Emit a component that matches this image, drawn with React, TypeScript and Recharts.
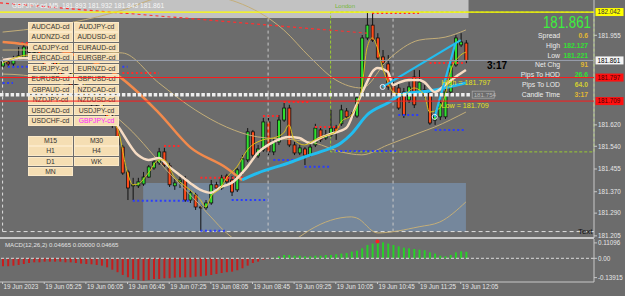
import React from 'react';
import {
  ComposedChart, Bar, Line, XAxis, YAxis, ReferenceLine, ReferenceArea, ReferenceDot, Cell,
} from 'recharts';

const FONT = '"Liberation Sans", Arial, sans-serif';

// 5 minute bars, 19 Jun 2023
const times = [
  '04:45', '04:50', '04:55',
  '05:00', '05:05', '05:10', '05:15', '05:20', '05:25', '05:30', '05:35', '05:40', '05:45', '05:50', '05:55',
  '06:00', '06:05', '06:10', '06:15', '06:20', '06:25', '06:30', '06:35', '06:40', '06:45', '06:50', '06:55',
  '07:00', '07:05', '07:10', '07:15', '07:20', '07:25', '07:30', '07:35', '07:40', '07:45', '07:50', '07:55',
  '08:00', '08:05', '08:10', '08:15', '08:20', '08:25', '08:30', '08:35', '08:40', '08:45', '08:50', '08:55',
  '09:00', '09:05', '09:10', '09:15', '09:20', '09:25', '09:30', '09:35', '09:40', '09:45', '09:50', '09:55',
  '10:00', '10:05', '10:10', '10:15', '10:20', '10:25', '10:30', '10:35', '10:40', '10:45', '10:50', '10:55',
  '11:00', '11:05', '11:10', '11:15', '11:20', '11:25', '11:30', '11:35', '11:40', '11:45', '11:50', '11:55',
  '12:00', '12:05', '12:10',
];

const opens = [
  181.840, 181.855, 181.848, 181.870, 181.874, 181.911, 181.892, 181.900, 181.863, 181.840,
  181.855, 181.818, 181.795, 181.806, 181.769, 181.751, 181.758, 181.721, 181.695, 181.706,
  181.668, 181.646, 181.620, 181.537, 181.444, 181.392, 181.392, 181.399, 181.425, 181.459,
  181.478, 181.519, 181.467, 181.392, 181.407, 181.418, 181.339, 181.358, 181.313, 181.310,
  181.328, 181.396, 181.384, 181.429, 181.414, 181.377, 181.444, 181.489, 181.594, 181.504,
  181.526, 181.631, 181.519, 181.556, 181.638, 181.683, 181.545, 181.515, 181.530, 181.507,
  181.545, 181.601, 181.571, 181.582, 181.608, 181.624, 181.672, 181.657, 181.653, 181.732,
  181.945, 181.993, 181.945, 181.874, 181.848, 181.766, 181.758, 181.743, 181.713, 181.799,
  181.743, 181.751, 181.739, 181.638, 181.650, 181.650, 181.743, 181.844, 181.919, 181.926,
];
const highs = [
  181.866, 181.863, 181.878, 181.911, 181.919, 181.922, 181.908, 181.908, 181.874, 181.863,
  181.863, 181.825, 181.818, 181.814, 181.780, 181.769, 181.766, 181.732, 181.713, 181.713,
  181.676, 181.657, 181.627, 181.545, 181.452, 181.422, 181.422, 181.444, 181.470, 181.496,
  181.534, 181.534, 181.478, 181.422, 181.429, 181.429, 181.377, 181.366, 181.321, 181.339,
  181.414, 181.407, 181.433, 181.437, 181.429, 181.459, 181.507, 181.608, 181.601, 181.545,
  181.646, 181.646, 181.571, 181.657, 181.702, 181.695, 181.556, 181.545, 181.537, 181.552,
  181.624, 181.612, 181.601, 181.676, 181.620, 181.695, 181.683, 181.668, 181.736, 181.956,
  182.038, 182.042, 181.963, 181.900, 181.881, 181.795, 181.777, 181.758, 181.780, 181.825,
  181.825, 181.769, 181.758, 181.676, 181.721, 181.758, 181.863, 181.956, 181.963, 181.937,
];
const lows = [
  181.833, 181.837, 181.840, 181.863, 181.866, 181.881, 181.870, 181.855, 181.825, 181.825,
  181.806, 181.780, 181.788, 181.758, 181.732, 181.736, 181.713, 181.683, 181.676, 181.657,
  181.631, 181.608, 181.537, 181.433, 181.339, 181.339, 181.384, 181.392, 181.422, 181.452,
  181.470, 181.463, 181.388, 181.377, 181.384, 181.332, 181.328, 181.302, 181.221, 181.302,
  181.321, 181.377, 181.377, 181.399, 181.354, 181.369, 181.433, 181.481, 181.496, 181.496,
  181.519, 181.507, 181.507, 181.545, 181.631, 181.537, 181.507, 181.507, 181.470, 181.500,
  181.537, 181.556, 181.564, 181.575, 181.564, 181.616, 181.642, 181.642, 181.646, 181.724,
  181.937, 181.930, 181.863, 181.840, 181.751, 181.721, 181.676, 181.646, 181.702, 181.683,
  181.732, 181.721, 181.620, 181.620, 181.638, 181.642, 181.736, 181.837, 181.911, 181.851,
];
const closes = [
  181.855, 181.848, 181.870, 181.878, 181.911, 181.892, 181.900, 181.863, 181.840, 181.855,
  181.818, 181.795, 181.806, 181.769, 181.751, 181.758, 181.721, 181.695, 181.706, 181.668,
  181.646, 181.620, 181.545, 181.440, 181.384, 181.396, 181.407, 181.425, 181.463, 181.481,
  181.519, 181.470, 181.396, 181.403, 181.414, 181.339, 181.366, 181.313, 181.310, 181.328,
  181.396, 181.384, 181.422, 181.407, 181.369, 181.452, 181.493, 181.594, 181.507, 181.530,
  181.631, 181.519, 181.556, 181.638, 181.683, 181.545, 181.515, 181.534, 181.507, 181.537,
  181.608, 181.564, 181.582, 181.608, 181.594, 181.676, 181.650, 181.650, 181.721, 181.945,
  181.993, 181.937, 181.870, 181.851, 181.762, 181.732, 181.683, 181.657, 181.762, 181.695,
  181.780, 181.732, 181.627, 181.657, 181.702, 181.743, 181.844, 181.945, 181.930, 181.861,
];

const macd = [
  -0.058, -0.058, -0.053, -0.048, -0.041, -0.034, -0.029, -0.029, -0.024, -0.024,
  -0.024, -0.024, -0.029, -0.029, -0.034, -0.038, -0.041, -0.043, -0.048, -0.053,
  -0.065, -0.082, -0.100, -0.120, -0.137, -0.149, -0.156, -0.161, -0.156, -0.149,
  -0.149, -0.144, -0.144, -0.139, -0.137, -0.137, -0.137, -0.132, -0.130, -0.125,
  -0.120, -0.113, -0.106, -0.100, -0.096, -0.086, -0.072, -0.053, -0.034, -0.024,
  -0.010, -0.005, 0.005, 0.014, 0.024, 0.024, 0.019, 0.019, 0.014, 0.014,
  0.019, 0.019, 0.024, 0.024, 0.029, 0.034, 0.038, 0.048, 0.055, 0.072,
  0.096, 0.106, 0.115, 0.115, 0.106, 0.096, 0.086, 0.077, 0.072, 0.067,
  0.062, 0.058, 0.043, 0.034, 0.019, 0.014, 0.024, 0.043, 0.050, 0.047,
];
const macdPeak: [number, number] = [72, 0.121];

// indicator lines read at visible points: [bar index, price]
const fastMa: [number, number][] = [
  [0, 181.851], [5, 181.881], [22, 181.608], [24, 181.440], [25, 181.396], [26, 181.399], [28, 181.440],
  [30, 181.489], [31, 181.489], [33, 181.425], [34, 181.407], [36, 181.377], [38, 181.339], [39, 181.313],
  [40, 181.351], [42, 181.388], [43, 181.422], [45, 181.463], [47, 181.526], [50, 181.564], [52, 181.571],
  [54, 181.590], [55, 181.620], [56, 181.564], [58, 181.545], [60, 181.564], [62, 181.579], [64, 181.594],
  [65, 181.631], [67, 181.657], [69, 181.758], [70, 181.908], [71, 181.945], [72, 181.908], [73, 181.833],
  [74, 181.780], [75, 181.743], [77, 181.732], [79, 181.758], [81, 181.732], [82, 181.668], [84, 181.683],
  [85, 181.732], [86, 181.818], [88, 181.881], [89, 181.892],
];
const midMa: [number, number][] = [
  [0, 181.863], [4, 181.870], [22, 181.620], [26, 181.507], [28, 181.489], [30, 181.496], [32, 181.463],
  [34, 181.433], [36, 181.403], [38, 181.377], [40, 181.366], [42, 181.388], [44, 181.403], [47, 181.463],
  [49, 181.515], [52, 181.556], [55, 181.575], [57, 181.571], [59, 181.552], [61, 181.571], [63, 181.586],
  [66, 181.608], [68, 181.695], [70, 181.780], [71, 181.818], [72, 181.833], [74, 181.818], [75, 181.769],
  [76, 181.777], [78, 181.788], [80, 181.788], [81, 181.780], [83, 181.743], [85, 181.769], [87, 181.799],
  [89, 181.825],
];
const slowMaDown: [number, number][] = [
  [0, 181.930], [4, 181.922], [22, 181.806], [30, 181.665], [36, 181.537], [43, 181.459], [46, 181.414],
];
const slowMaUp: [number, number][] = [
  [46, 181.414], [49, 181.440], [55, 181.478], [58, 181.500], [61, 181.519], [65, 181.552], [67, 181.586],
  [70, 181.657], [74, 181.702], [77, 181.736], [82, 181.747], [89, 181.777],
];
const bandUpper: [number, number][] = [
  [0, 181.967], [4, 181.975], [23, 182.049], [30, 182.094], [38, 182.105], [45, 182.079], [54, 181.975],
  [59, 181.874], [64, 181.788], [69, 181.758], [74, 181.863], [80, 181.937], [85, 181.948], [89, 181.975],
];
const bandMiddle: [number, number][] = [
  [0, 181.900], [4, 181.900], [23, 181.889], [30, 181.777], [37, 181.676], [43, 181.612], [49, 181.575],
  [56, 181.564], [60, 181.552], [65, 181.519], [69, 181.508], [74, 181.545], [80, 181.590], [83, 181.612],
  [89, 181.668],
];
const bandLower: [number, number][] = [
  [0, 181.810], [4, 181.806], [24, 181.612], [32, 181.440], [37, 181.339], [40, 181.276], [43, 181.216],
  [47, 181.171], [53, 181.168], [57, 181.201], [59, 181.227], [67, 181.276], [68, 181.272], [72, 181.216],
  [80, 181.239], [84, 181.257], [89, 181.332],
];

// dotted fractal levels: [from bar, to bar, price]
const resistance: [number, number, number][] = [
  [1, 5, 181.926], [23, 30, 181.814], [31, 34, 181.541], [38, 47, 181.422], [50, 53, 181.653],
  [54, 59, 181.706], [60, 65, 181.612], [71, 80, 182.038], [82, 89, 181.851],
];
const support: [number, number, number][] = [
  [0, 2, 181.777], [1, 5, 181.837], [23, 24, 181.837], [25, 36, 181.336], [38, 43, 181.224],
  [44, 51, 181.339], [52, 57, 181.489], [58, 63, 181.463], [64, 76, 181.522], [76, 80, 181.657],
  [83, 89, 181.601],
];
// zigzag legs: [bar, price, bar, price]
const zigzag: [number, number, number, number][] = [
  [73, 181.762, 88, 181.937],
  [83, 181.650, 87, 181.926],
];
const pivots: [number, number][] = [[73, 181.762], [83, 181.650]];
const downTrend: [number, number, number, number] = [-0.5, 182.076, 70, 181.963];

const dayHigh = 182.042;
const bidPrice = 181.861;
const levelHigh = 181.797;
const levelLow = 181.709;
const pivotLine = 181.733;
const dayLow = 181.221;
const londonBox = { from: 63, to: 113.6, low: 181.519, high: 182.042 };
const rangeBox = { from: 27, to: 89, low: 181.221, high: 181.403 };
const hourMarks = [51, 75];

const priceTicks = [181.205, 181.29, 181.37, 181.455, 181.54, 181.62, 181.955];
const macdTicks = [0.11096, 0, -0.13915];
const timeTicks = [0, 8, 16, 24, 32, 40, 48, 56, 64, 72, 80, 88];

const symbols = [
  ['AUDCAD-cd', 'AUDJPY-cd'], ['AUDNZD-cd', 'AUDUSD-cd'], ['CADJPY-cd', 'EURAUD-cd'],
  ['EURCAD-cd', 'EURGBP-cd'], ['EURJPY-cd', 'EURNZD-cd'], ['EURUSD-cd', 'GBPUSD-cd'],
  ['GBPAUD-cd', 'NZDCAD-cd'], ['NZDJPY-cd', 'NZDUSD-cd'], ['USDCAD-cd', 'USDJPY-cd'],
  ['USDCHF-cd', 'GBPJPY-cd'],
];
const frames = [['M15', 'M30'], ['H1', 'H4'], ['D1', 'WK'], ['MN']];

const GREEN = '#33e033';
const GOLD = '#e2b832';
const infoRows: [string, string, string][] = [
  ['Spread', '0.6', GOLD], ['High', '182.127', GREEN], ['Low', '181.221', GREEN],
  ['Net Chg', '91', GOLD], ['Pips To HOD', '26.6', GREEN], ['Pips To LOD', '64.0', '#d4d030'],
  ['Candle Time', '3:17', GOLD],
];

const X_DOMAIN: [number, number] = [-0.5, 113.6];
const PRICE_DOMAIN: [number, number] = [181.197, 182.087];
const MACD_DOMAIN: [number, number] = [-0.1706, 0.139];

const rows: any[] = times.map((t, i) => ({
  i, t, open: opens[i], high: highs[i], low: lows[i], close: closes[i], macd: macd[i],
}));
const put = (key: string, pts: [number, number][]) => pts.forEach(([i, v]) => { rows[i][key] = v; });
put('fast', fastMa);
put('mid', midMa);
put('slowDown', slowMaDown);
put('slowUp', slowMaUp);
put('upper', bandUpper);
put('middle', bandMiddle);
put('lower', bandLower);

const timeLabel = (i: number) => (i === 0 ? '19 Jun 2023' : '19 Jun ' + times[i]);

const Candle = (props: any) => {
  const { x, width, payload } = props;
  let { y, height } = props;
  if (height < 0) { y += height; height = -height; }
  const { open, close, high, low } = payload;
  const k = high > low ? height / (high - low) : 0;
  const yo = y + (high - open) * k;
  const yc = y + (high - close) * k;
  const up = close >= open;
  const cx = x + width / 2;
  return (
    <g>
      <line x1={cx} x2={cx} y1={y} y2={y + Math.max(height, 1)} stroke="#111" strokeWidth={1} />
      <rect x={x + 0.5} y={Math.min(yo, yc)} width={width - 1} height={Math.max(Math.abs(yo - yc), 1)}
        fill={up ? '#2fe02f' : '#ff4a1a'} stroke="#111" strokeWidth={0.8} />
    </g>
  );
};

const axisTag = (text: string, bg: string, fg: string) => (p: any) => {
  const vb = p.viewBox || {};
  const x = (vb.x || 0) + (vb.width || 0) + 1.5;
  const y = vb.y || 0;
  return (
    <g>
      <rect x={x} y={y - 4} width={28} height={8} fill={bg} />
      <text x={x + 2} y={y + 2.3} fontSize={6.3} fill={fg} fontFamily={FONT}>{text}</text>
    </g>
  );
};

const noteText = (text: string, dy: number) => (p: any) => (
  <text x={p.cx} y={p.cy + dy} fontSize={7.2} fill="#e4e020" fontFamily={FONT}>{text}</text>
);

const TimeTick = (p: any) => (
  <text x={p.x + 1} y={p.y + 5} fill="#e6e6e6" fontSize={6.3} fontFamily={FONT} textAnchor="start">
    {timeLabel(p.payload.value)}
  </text>
);

const smallTick = { fill: '#e6e6e6', fontSize: 6.3, fontFamily: FONT };
const abs = (left: number, top: number, extra: React.CSSProperties = {}): React.CSSProperties => ({
  position: 'absolute', left, top, fontFamily: FONT, whiteSpace: 'nowrap', ...extra,
});

const lineProps = { type: 'monotone' as const, dot: false, activeDot: false, connectNulls: true, isAnimationActive: false };

export default function App() {
  return (
    <div style={{ position: 'absolute', left: 0, top: 0, width: 625, height: 296, background: '#6c6c6c', overflow: 'hidden' }}>
      {/* price panel */}
      <div style={{ position: 'absolute', left: 0, top: 0 }}>
        <ComposedChart width={625} height={238} data={rows} margin={{ top: 0, right: 0, left: 0, bottom: 0 }}>
          <XAxis dataKey="i" type="number" domain={X_DOMAIN} ticks={timeTicks} hide />
          <YAxis orientation="right" width={31} type="number" domain={PRICE_DOMAIN} allowDataOverflow
            ticks={priceTicks} interval={0} tickFormatter={(v: number) => v.toFixed(3)} tick={smallTick}
            tickSize={3} tickMargin={1} axisLine={{ stroke: '#c8c8c8' }} tickLine={{ stroke: '#c8c8c8' }} />
          <ReferenceArea x1={-0.5} x2={89.5} y1={182.02} y2={PRICE_DOMAIN[1]} fill="#c2c2c2" fillOpacity={1} stroke="none" />
          <ReferenceArea x1={rangeBox.from} x2={rangeBox.to} y1={rangeBox.low} y2={rangeBox.high}
            fill="#75879c" fillOpacity={1} stroke="none" />
          <ReferenceArea x1={londonBox.from} x2={londonBox.to} y1={londonBox.low} y2={londonBox.high}
            fill="none" stroke="#9acd32" strokeDasharray="3 2" />
          {hourMarks.map((h) => (
            <ReferenceLine key={'h' + h} segment={[{ x: h, y: dayLow }, { x: h, y: dayHigh }]}
              stroke="#c8c8c8" strokeDasharray="3 3" />
          ))}
          <ReferenceLine segment={[{ x: 0, y: dayLow }, { x: 0, y: 181.874 }]} stroke="#e0e0e0" strokeDasharray="3 3" />
          <ReferenceLine segment={[{ x: 0, y: dayLow }, { x: X_DOMAIN[1], y: dayLow }]} stroke="#e0e0e0" strokeDasharray="4 3" />
          <ReferenceLine segment={[{ x: downTrend[0], y: downTrend[1] }, { x: downTrend[2], y: downTrend[3] }]}
            stroke="#ff3030" strokeWidth={1.2} strokeDasharray="3 3" />

          <Line dataKey="upper" stroke="#c4ae78" strokeWidth={1} {...lineProps} />
          <Line dataKey="middle" stroke="#c4ae78" strokeWidth={1} {...lineProps} />
          <Line dataKey="lower" stroke="#c4ae78" strokeWidth={1} {...lineProps} />

          <Bar dataKey={(d: any) => [d.low, d.high]} barSize={4} shape={Candle} isAnimationActive={false} />

          {resistance.map(([a, b, p], k) => (
            <ReferenceLine key={'r' + k} segment={[{ x: a, y: p }, { x: b, y: p }]} stroke="#ff2a2a" strokeWidth={2} strokeDasharray="2 2.5" />
          ))}
          {support.map(([a, b, p], k) => (
            <ReferenceLine key={'s' + k} segment={[{ x: a, y: p }, { x: b, y: p }]} stroke="#2a3cff" strokeWidth={2} strokeDasharray="2 2.5" />
          ))}

          <Line dataKey="slowDown" stroke="#f28a4c" strokeWidth={2.5} {...lineProps} />
          <Line dataKey="slowUp" stroke="#22bdf0" strokeWidth={3} {...lineProps} />
          <Line dataKey="mid" stroke="#f6dcc4" strokeWidth={2.5} {...lineProps} />
          <Line dataKey="fast" stroke="#d8c01c" strokeWidth={1} {...lineProps} />
          {zigzag.map(([a, pa, b, pb], k) => (
            <ReferenceLine key={'z' + k} segment={[{ x: a, y: pa }, { x: b, y: pb }]} stroke="#22bdf0" strokeWidth={2.2} />
          ))}
          {pivots.map(([a, p], k) => (
            <ReferenceDot key={'p' + k} x={a} y={p} r={2.5} fill="none" stroke="#e8f4ff" strokeWidth={1} />
          ))}
        </ComposedChart>
      </div>

      {/* symbol and timeframe buttons */}
      {symbols.map((pair, r) => pair.map((s, c) => (
        <div key={s} style={abs(28 + c * 46, 22 + r * 10.45, {
          width: 45, height: 9.6, background: '#f5deb3', boxSizing: 'border-box', border: '1px solid #fbe9c8',
          fontSize: 6.8, lineHeight: '8px', textAlign: 'center', color: s === 'GBPJPY-cd' ? '#ff22ff' : '#333',
        })}>{s}</div>
      )))}
      {frames.map((pair, r) => pair.map((s, c) => (
        <div key={s} style={abs(28 + c * 46, 136 + r * 10.3, {
          width: 45, height: 9.6, background: '#f5deb3', boxSizing: 'border-box', border: '1px solid #fbe9c8',
          fontSize: 6.8, lineHeight: '8px', textAlign: 'center', color: '#333',
        })}>{s}</div>
      )))}

      {/* levels drawn on top of the buttons */}
      <div style={{ position: 'absolute', left: 0, top: 0, pointerEvents: 'none' }}>
        <ComposedChart width={625} height={238} data={rows} margin={{ top: 0, right: 31, left: 0, bottom: 0 }}>
          <XAxis dataKey="i" type="number" domain={X_DOMAIN} ticks={timeTicks} hide />
          <YAxis type="number" domain={PRICE_DOMAIN} allowDataOverflow hide />
          <ReferenceLine y={bidPrice} stroke="#9aa0b0" strokeWidth={1} label={axisTag('181.861', '#f4f4f4', '#000')} />
          <ReferenceLine segment={[{ x: -0.5, y: pivotLine }, { x: 89.8, y: pivotLine }]}
            stroke="#eeeeee" strokeWidth={3.5} strokeDasharray="3.5 1.8" />
          <ReferenceLine y={levelHigh} stroke="#ff1a1a" strokeWidth={1} label={axisTag('181.797', '#ff1010', '#4a0000')} />
          <ReferenceLine y={levelLow} stroke="#ff1a1a" strokeWidth={1} label={axisTag('181.709', '#ff1010', '#4a0000')} />
          <ReferenceLine y={dayHigh} stroke="#ffff00" strokeWidth={1.3} label={axisTag('182.042', '#ffff00', '#333')} />
          <ReferenceDot x={84.3} y={levelHigh} r={0} shape={noteText('High = 181.797', 7)} />
          <ReferenceDot x={84.3} y={levelLow} r={0} shape={noteText('Low = 181.709', 7)} />
          <ReferenceDot x={90.2} y={pivotLine} r={0} shape={(p: any) => (
            <g>
              <rect x={p.cx} y={p.cy - 3.5} width={22} height={7} fill="none" stroke="#a8a8a8" strokeWidth={0.8} />
              <text x={p.cx + 1.5} y={p.cy + 2.2} fontSize={6.2} fill="#b8b8b8" fontFamily={FONT}>181.754</text>
            </g>
          )} />
        </ComposedChart>
      </div>

      {/* panel separator */}
      <div style={{ position: 'absolute', left: 0, top: 237, width: 594, height: 2, background: '#cacaca' }} />

      {/* MACD panel */}
      <div style={{ position: 'absolute', left: 0, top: 239 }}>
        <ComposedChart width={625} height={57} data={rows} margin={{ top: 0, right: 0, left: 0, bottom: 0 }}>
          <XAxis dataKey="i" type="number" domain={X_DOMAIN} ticks={timeTicks} interval={0} height={14}
            tick={<TimeTick />} tickSize={2} tickMargin={0} axisLine={{ stroke: '#c8c8c8' }} tickLine={{ stroke: '#c8c8c8' }} />
          <YAxis orientation="right" width={31} type="number" domain={MACD_DOMAIN} allowDataOverflow
            ticks={macdTicks} interval={0} tickFormatter={(v: number) => (v === 0 ? '0.00' : v.toFixed(5))}
            tick={smallTick} tickSize={3} tickMargin={1} axisLine={{ stroke: '#c8c8c8' }} tickLine={{ stroke: '#c8c8c8' }} />
          <ReferenceLine y={0} stroke="#dddddd" strokeDasharray="3 2" />
          <Bar dataKey="macd" barSize={2} isAnimationActive={false}>
            {rows.map((r) => <Cell key={r.i} fill={r.macd >= 0 ? '#28d028' : '#c81c1c'} />)}
          </Bar>
          <ReferenceDot x={macdPeak[0]} y={macdPeak[1]} r={2} fill="#ff2020" stroke="none" />
        </ComposedChart>
      </div>

      {/* texts */}
      <div style={abs(12, 1.5, { fontSize: 6.7, color: '#f6f6f6' })}>GBPJPY-cd,M5&nbsp; 181.893 181.932 181.843 181.861</div>
      <div style={abs(335, 3, { fontSize: 6, color: '#74b83a' })}>London</div>
      <div style={abs(543, 14, { fontSize: 17, color: '#3cf03c', transform: 'scaleX(0.78)', transformOrigin: 'left top', lineHeight: '17px' })}>181.861</div>
      {infoRows.map(([label, value, color], k) => (
        <React.Fragment key={label}>
          <div style={abs(480, 32 + k * 9.75, { width: 80, textAlign: 'right', fontSize: 6.8, lineHeight: '8px', color: '#ececec' })}>{label}</div>
          <div style={abs(558, 32 + k * 9.75, { width: 30, textAlign: 'right', fontSize: 6.8, lineHeight: '8px', color, fontWeight: 'bold' })}>{value}</div>
        </React.Fragment>
      ))}
      <div style={abs(487, 61, { fontSize: 10, fontWeight: 'bold', color: '#000', lineHeight: '10px' })}>3:17</div>
      <div style={abs(578, 228, { fontSize: 7.8, color: '#111', lineHeight: '8px' })}>Text</div>
      <div style={abs(5, 241, { fontSize: 6.1, color: '#e2e2e2', lineHeight: '7px' })}>MACD(12,26,2) 0.04665 0.00000 0.04665</div>
    </div>
  );
}
